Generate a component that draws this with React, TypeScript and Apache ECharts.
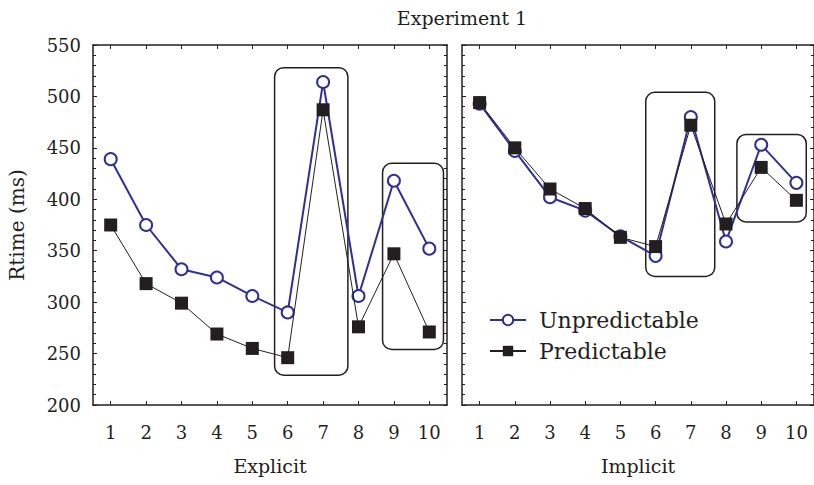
import React, { useEffect, useRef } from "react";
import * as echarts from "echarts";

// Trial positions (1..10) and mean response times in ms
const trials = [1, 2, 3, 4, 5, 6, 7, 8, 9, 10];
const yTicks = [200, 250, 300, 350, 400, 450, 500, 550];

const explicitUnpredictable = [439, 375, 332, 324, 306, 290, 514, 306, 418, 352];
const explicitPredictable = [375, 318, 299, 269, 255, 246, 487, 276, 347, 271];
const implicitUnpredictable = [493, 447, 402, 389, 364, 345, 480, 359, 453, 416];
const implicitPredictable = [494, 450, 410, 391, 363, 354, 472, 376, 431, 399];

// Highlight frames: [xFrom, xTo, yFrom, yTo] in data units
const explicitFrames = [
  [5.63, 7.7, 229, 528],
  [8.68, 10.4, 254, 435],
];
const implicitFrames = [
  [5.72, 7.68, 325, 504],
  [8.31, 10.28, 378, 463],
];

const FONT = "DejaVu Serif";
const INK = "#231f20";
const BLUE = "#2e3192";

export default function App() {
  const ref = useRef<HTMLDivElement>(null);

  useEffect(() => {
    document.body.style.margin = "0";
    if (!ref.current) return;
    const chart = echarts.init(ref.current, undefined, { renderer: "svg" });

    const xAxisBase = (gridIndex: number, name: string) => ({
      type: "value",
      gridIndex,
      min: 0.5,
      max: 10.5,
      name,
      nameLocation: "middle",
      nameGap: 51,
      nameTextStyle: { fontFamily: FONT, fontSize: 19, color: INK },
      axisLine: { show: true, lineStyle: { color: INK, width: 1.5 } },
      axisTick: {
        show: true,
        inside: true,
        length: 4,
        customValues: trials,
        lineStyle: { color: INK, width: 1 },
      },
      axisLabel: {
        customValues: trials,
        margin: 18,
        fontFamily: FONT,
        fontSize: 18,
        color: INK,
      },
      splitLine: { show: false },
    });

    const xAxisTop = (gridIndex: number) => ({
      type: "value",
      gridIndex,
      position: "top",
      min: 0.5,
      max: 10.5,
      axisLine: { show: true, lineStyle: { color: INK, width: 1.5 } },
      axisTick: {
        show: true,
        inside: true,
        length: 4,
        customValues: trials,
        lineStyle: { color: INK, width: 1 },
      },
      axisLabel: { show: false },
      splitLine: { show: false },
    });

    const yAxisBase = (gridIndex: number, position: string, showLabels: boolean, name?: string) => ({
      type: "value",
      gridIndex,
      position,
      min: yTicks[0],
      max: yTicks[yTicks.length - 1],
      interval: 50,
      name: name || "",
      nameLocation: "middle",
      nameGap: 66,
      nameRotate: 90,
      nameTextStyle: { fontFamily: FONT, fontSize: 20, color: INK },
      axisLine: { show: true, lineStyle: { color: INK, width: 1.5 } },
      axisTick: { show: true, inside: true, length: 4, lineStyle: { color: INK, width: 1 } },
      minorTick: { show: true, splitNumber: 5, length: 3, lineStyle: { color: INK, width: 1 } },
      axisLabel: {
        show: showLabels,
        margin: 12,
        fontFamily: FONT,
        fontSize: 18,
        color: INK,
      },
      splitLine: { show: false },
    });

    const frameSeries = (xAxisIndex: number, yAxisIndex: number, data: number[][]) => ({
      type: "custom",
      xAxisIndex,
      yAxisIndex,
      z: 1,
      silent: true,
      encode: { x: [0, 1], y: [2, 3] },
      data,
      renderItem: (_params: any, api: any) => {
        const p1 = api.coord([api.value(0), api.value(3)]);
        const p2 = api.coord([api.value(1), api.value(2)]);
        return {
          type: "rect",
          shape: { x: p1[0], y: p1[1], width: p2[0] - p1[0], height: p2[1] - p1[1], r: 9 },
          style: { fill: "none", stroke: INK, lineWidth: 1.5 },
        };
      },
    });

    const pairs = (vals: number[]) => trials.map((t, i) => [t, vals[i]]);

    const unpredictable = (xAxisIndex: number, yAxisIndex: number, vals: number[]) => ({
      type: "line",
      name: "Unpredictable",
      xAxisIndex,
      yAxisIndex,
      z: 3,
      data: pairs(vals),
      symbol: "circle",
      symbolSize: 12,
      lineStyle: { color: BLUE, width: 2 },
      itemStyle: { color: "#ffffff", borderColor: BLUE, borderWidth: 2 },
    });

    const predictable = (xAxisIndex: number, yAxisIndex: number, vals: number[]) => ({
      type: "line",
      name: "Predictable",
      xAxisIndex,
      yAxisIndex,
      z: 4,
      data: pairs(vals),
      symbol: "rect",
      symbolSize: 13,
      lineStyle: { color: INK, width: 1 },
      itemStyle: { color: INK, borderWidth: 0 },
    });

    chart.setOption({
      animation: false,
      backgroundColor: "#ffffff",
      title: {
        text: "Experiment 1",
        left: 457,
        top: 3,
        textAlign: "center",
        textStyle: { fontFamily: FONT, fontSize: 19, fontWeight: "normal", color: INK },
      },
      legend: {
        data: ["Unpredictable", "Predictable"],
        orient: "vertical",
        left: 484,
        top: 304,
        itemWidth: 36,
        itemHeight: 13,
        itemGap: 9,
        textStyle: { fontFamily: FONT, fontSize: 22, color: INK, padding: [0, 0, 0, 8] },
      },
      grid: [
        { left: 93, top: 45, width: 354, height: 360 },
        { left: 462, top: 45, width: 354, height: 360 },
      ],
      xAxis: [
        xAxisBase(0, "Explicit"),
        xAxisBase(1, "Implicit"),
        xAxisTop(0),
        xAxisTop(1),
      ],
      yAxis: [
        yAxisBase(0, "left", true, "Rtime (ms)"),
        yAxisBase(1, "left", false),
        yAxisBase(0, "right", false),
        yAxisBase(1, "right", false),
      ],
      series: [
        frameSeries(0, 0, explicitFrames),
        frameSeries(1, 1, implicitFrames),
        unpredictable(0, 0, explicitUnpredictable),
        predictable(0, 0, explicitPredictable),
        unpredictable(1, 1, implicitUnpredictable),
        predictable(1, 1, implicitPredictable),
      ],
    });

    return () => chart.dispose();
  }, []);

  return <div ref={ref} style={{ width: 814, height: 485 }} />;
}
